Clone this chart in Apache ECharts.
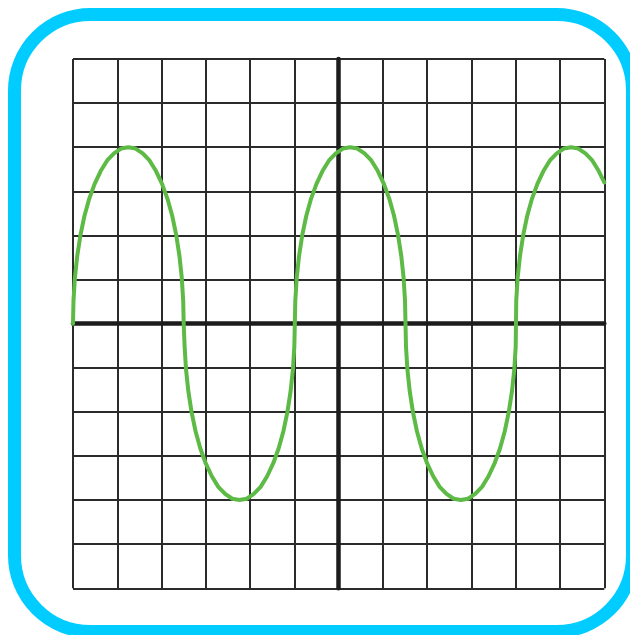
<!DOCTYPE html>
<html>
<head>
<meta charset="utf-8">
<script src="https://cdn.jsdelivr.net/npm/echarts@6/dist/echarts.min.js"></script>
<style>
  html, body { margin: 0; padding: 0; background: #ffffff; }
  #chart { width: 630px; height: 635px; }
</style>
</head>
<body>
<div id="chart"></div>
<script>
// Grid extent in cell units (12 x 12 cells)
var axisRange = [-6, 6];
var gridStep = 1;

// Wave trace (x, y in grid cells)
var hump1X = [-6, -5.989, -5.957, -5.905, -5.833, -5.742, -5.634, -5.511, -5.375, -5.228, -5.074, -4.913, -4.75,
              -4.587, -4.426, -4.272, -4.125, -3.989, -3.866, -3.758, -3.667, -3.595, -3.543, -3.511, -3.5];
var hump1Y = [0, 0.52, 1.04, 1.53, 2.0, 2.44, 2.83, 3.17, 3.46, 3.70, 3.86, 3.97, 4,
              3.97, 3.86, 3.70, 3.46, 3.17, 2.83, 2.44, 2.0, 1.53, 1.04, 0.52, 0];

var trough1X = [-3.49, -3.479, -3.447, -3.395, -3.323, -3.232, -3.124, -3.001, -2.865, -2.718, -2.564, -2.403, -2.24,
                -2.077, -1.916, -1.762, -1.615, -1.479, -1.356, -1.248, -1.157, -1.085, -1.033, -1.001, -0.99];
var trough1Y = [0, -0.52, -1.04, -1.53, -2.0, -2.44, -2.83, -3.17, -3.46, -3.70, -3.86, -3.97, -4,
                -3.97, -3.86, -3.70, -3.46, -3.17, -2.83, -2.44, -2.0, -1.53, -1.04, -0.52, 0];

var hump2X = [-0.979, -0.947, -0.895, -0.823, -0.732, -0.624, -0.501, -0.365, -0.218, -0.064, 0.097, 0.26,
              0.423, 0.584, 0.738, 0.885, 1.021, 1.144, 1.252, 1.343, 1.415, 1.467, 1.499, 1.51];
var hump2Y = [0.52, 1.04, 1.53, 2.0, 2.44, 2.83, 3.17, 3.46, 3.70, 3.86, 3.97, 4,
              3.97, 3.86, 3.70, 3.46, 3.17, 2.83, 2.44, 2.0, 1.53, 1.04, 0.52, 0];

var trough2X = [1.521, 1.553, 1.605, 1.677, 1.768, 1.876, 1.999, 2.135, 2.282, 2.436, 2.597, 2.76,
                2.923, 3.084, 3.238, 3.385, 3.521, 3.644, 3.752, 3.843, 3.915, 3.967, 3.999, 4.005];
var trough2Y = [-0.52, -1.04, -1.53, -2.0, -2.44, -2.83, -3.17, -3.46, -3.70, -3.86, -3.97, -4,
                -3.97, -3.86, -3.70, -3.46, -3.17, -2.83, -2.44, -2.0, -1.53, -1.04, -0.52, 0];

var hump3X = [4.011, 4.043, 4.095, 4.167, 4.258, 4.366, 4.489, 4.625, 4.772, 4.926, 5.087, 5.25,
              5.413, 5.574, 5.728, 5.875, 6.0];
var hump3Y = [0.52, 1.04, 1.53, 2.0, 2.44, 2.83, 3.17, 3.46, 3.70, 3.86, 3.97, 4,
              3.97, 3.86, 3.70, 3.46, 3.2];

var waveX = [].concat(hump1X, trough1X, hump2X, trough2X, hump3X);
var waveY = [].concat(hump1Y, trough1Y, hump2Y, trough2Y, hump3Y);
var waveData = waveX.map(function (x, i) { return [x, waveY[i]]; });

var chart = echarts.init(document.getElementById('chart'), null, { renderer: 'canvas' });

var gridLine = { show: true, lineStyle: { color: '#2b2b2b', width: 2 } };
var zeroLine = { show: true, onZero: true, lineStyle: { color: '#1c1c1c', width: 4.5 } };

chart.setOption({
  animation: false,
  backgroundColor: '#ffffff',
  grid: { left: 73, right: 25.7, top: 59, bottom: 46.7, containLabel: false },
  xAxis: {
    type: 'value',
    min: axisRange[0], max: axisRange[1], interval: gridStep,
    axisLine: zeroLine,
    axisTick: { show: false },
    axisLabel: { show: false },
    splitLine: gridLine
  },
  yAxis: {
    type: 'value',
    min: axisRange[0], max: axisRange[1], interval: gridStep,
    axisLine: zeroLine,
    axisTick: { show: false },
    axisLabel: { show: false },
    splitLine: gridLine
  },
  series: [{
    type: 'line',
    data: waveData,
    smooth: false,
    showSymbol: false,
    symbol: 'none',
    lineStyle: { color: '#5cba45', width: 4, cap: 'round', join: 'round' },
    z: 5
  }],
  graphic: [{
    type: 'rect',
    shape: { x: 14.5, y: 14.5, width: 618, height: 617, r: 76 },
    style: { fill: 'none', stroke: '#00ccff', lineWidth: 13 },
    z: 10,
    silent: true
  }]
});
</script>
</body>
</html>
